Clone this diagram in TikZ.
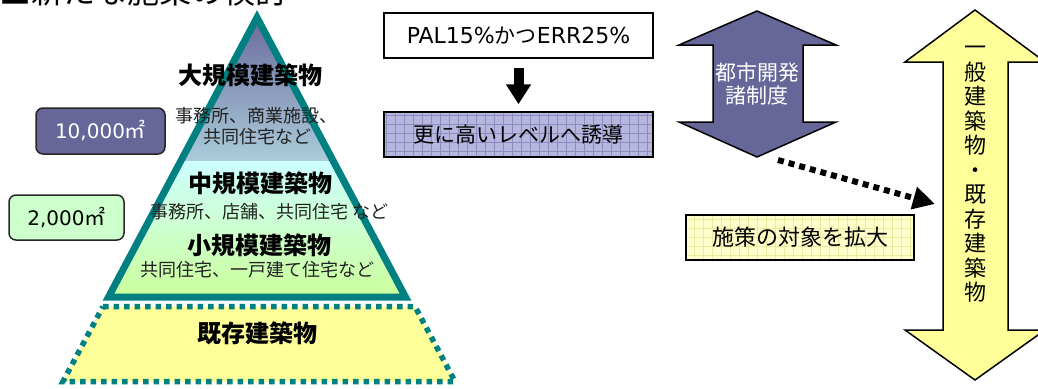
\documentclass[tikz,border=0pt]{standalone}
\usepackage{fontspec}
\newfontfamily\jp{Noto Sans CJK JP}
\newfontfamily\lat{DejaVu Sans}
\usetikzlibrary{arrows.meta}
\definecolor{purp}{HTML}{666699}
\definecolor{tealc}{HTML}{008080}
\definecolor{yel}{HTML}{FFFF99}
\definecolor{cyanl}{HTML}{CCFFFF}
\definecolor{greenl}{HTML}{CCFF99}
\definecolor{bluegray}{HTML}{ABCCDA}
\definecolor{lgreen}{HTML}{CCFFCC}
\definecolor{gridpurp}{HTML}{8C8CC0}
\definecolor{boxpurp}{HTML}{B6B6DE}
\definecolor{lyel}{HTML}{FFFFCC}
\definecolor{gridyel}{HTML}{EAEAA0}
\definecolor{txtgray}{HTML}{222222}
\tikzset{
  bigbold/.style={font=\jp\bfseries\fontsize{24}{26}\selectfont},
  smalltxt/.style={font=\jp\fontsize{18}{20}\selectfont, text=txtgray},
  sqbox/.style={draw=black, line width=1.5, minimum width=269, minimum height=45, font=\jp\fontsize{21}{23}\selectfont},
  rbox/.style={draw=black!85, line width=1.5, rounded corners=7, font=\jp\fontsize{21}{23}\selectfont},
  blockarrow/.style={draw=black, line width=1.5, line join=miter},
}
\begin{document}
\begin{tikzpicture}[x=1pt,y=-1pt,inner sep=0pt]
\useasboundingbox (0,0) rectangle (1038,388);
\clip (0,0) rectangle (1038,388);

% title (cut off at the top, as in the reference)
\node[anchor=base west, font=\jp\fontsize{32}{32}\selectfont] (title) at (-1,4) {■新たな施策の検討};

% pyramid
\begin{scope}
  \clip (257,17.6) -- (405.5,297) -- (108.5,297) -- cycle;
  \shade[top color=purp, bottom color=bluegray] (100,10) rectangle (420,161);
  \shade[top color=cyanl, bottom color=greenl] (100,161) rectangle (420,300);
\end{scope}
\draw[tealc, line width=7, line join=miter] (257,17.6) -- (405.5,297) -- (108.5,297) -- cycle;

% existing buildings trapezoid
\draw[tealc, line width=5.5, dash pattern=on 5.5 off 5, fill=yel] (103,306.5) -- (415,306.5) -- (455,381.5) -- (63,381.5) -- cycle;

\node[bigbold] (large) at (250,75) {大規模建築物};
\node[smalltxt] (largeex1) at (256,116) {事務所、商業施設、};
\node[smalltxt] (largeex2) at (257,137) {共同住宅など};
\node[bigbold] (mid) at (260,183) {中規模建築物};
\node[smalltxt, anchor=west] (midex) at (150,212) {事務所、店舗、共同住宅 など};
\node[bigbold] (small) at (259,245) {小規模建築物};
\node[smalltxt] (smallex) at (257,270) {共同住宅、一戸建て住宅など};
\node[bigbold] (exist) at (257,333) {既存建築物};

% threshold boxes
\node[rbox, fill=purp, text=white, minimum width=129, minimum height=46] (b10k) at (100.5,131) {{\lat\fontsize{20}{22}\selectfont 10,000}㎡};
\node[rbox, fill=lgreen, minimum width=115, minimum height=45] (b2k) at (66.5,217.5) {{\lat\fontsize{20}{22}\selectfont 2,000}㎡};

% PAL boxes
\node[sqbox, fill=white] (pal) at (518.5,35.5) {{\lat\fontsize{22}{24}\selectfont PAL15\%}かつ{\lat\fontsize{22}{24}\selectfont ERR25\%}};
\node[sqbox, fill=boxpurp, path picture={\draw[gridpurp, line width=0.5, step=9pt] (path picture bounding box.south west) grid (path picture bounding box.north east);}] (kou) at (518.5,134.5) {更に高いレベルへ誘導};
\draw[line width=10, -{Triangle[width=24,length=20]}] ([yshift=-9pt]pal.south) -- ([yshift=7pt]kou.north);

% urban development double arrow
\draw[blockarrow, fill=purp] (757,11) -- (836,45) -- (803,45) -- (803,122) -- (836,122) -- (757,157) -- (679,122) -- (713,122) -- (713,45) -- (679,45) -- cycle;
\node[align=center, text=white, font=\jp\fontsize{21}{23}\selectfont] (toshi) at (757,84) {都市開発\\諸制度};

% general / existing buildings double arrow
\draw[blockarrow, fill=yel] (975,10) -- (1045,62) -- (1008,62) -- (1008,330) -- (1045,330) -- (975,380) -- (905,330) -- (943,330) -- (943,62) -- (905,62) -- cycle;
\node[align=center, font=\jp\fontsize{22}{24.5}\selectfont] (ippan) at (975.5,174.5) {一\\般\\建\\築\\物\\・\\既\\存\\建\\築\\物};

% expand box
\node[draw=black, line width=1.5, fill=lyel, minimum width=228, minimum height=45, font=\jp\fontsize{22}{24}\selectfont, path picture={\draw[gridyel, line width=0.5, step=9pt] (path picture bounding box.south west) grid (path picture bounding box.north east);}] (expand) at (800,237.5) {施策の対象を拡大};

% dotted arrow
\coordinate (ds) at (778,160);
\coordinate (de) at (935,204);
\draw[line width=6, dash pattern=on 6 off 5, -{Triangle[width=22,length=22]}] (ds) -- (de);
\end{tikzpicture}
\end{document}
